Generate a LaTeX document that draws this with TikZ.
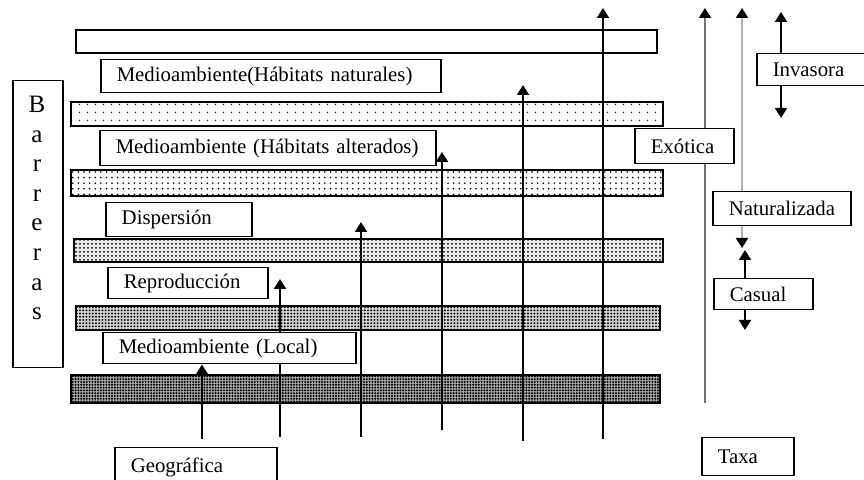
\documentclass[tikz,border=0pt]{standalone}
\usepackage{fontspec}
\setmainfont{Liberation Serif}
\usetikzlibrary{arrows.meta,patterns.meta,backgrounds}

\begin{document}
\begin{tikzpicture}[x=0.5pt,y=-0.5pt,>={Triangle[length=5pt,width=6pt]}]
    \tikzstyle{bar}=[draw,line width=0.7pt]
    \tikzstyle{bar blank}=[fill=white]
    \tikzstyle{bar sparse}=[pattern={Dots[distance=4pt,radius=0.4pt]}]
    \tikzstyle{bar medium}=[pattern={Dots[distance=2.8pt,radius=0.45pt]}]
    \tikzstyle{bar dense}=[preaction={fill=black!8},pattern={Dots[distance=2pt,radius=0.5pt]}]
    \tikzstyle{bar denser}=[preaction={fill=black!15},pattern={Dots[distance=1.6pt,radius=0.55pt]}]
    \tikzstyle{bar densest}=[preaction={fill=black!35},pattern={Dots[distance=1.4pt,radius=0.55pt]}]
    \tikzstyle{barrier}=[draw,fill=white,line width=0.75pt,anchor=north west,inner xsep=8pt,inner ysep=0pt,align=left,font=\fontsize{10.4}{12}\selectfont]
    \tikzstyle{status}=[barrier]
    \tikzstyle{taxon}=[->,line width=1pt]
    \tikzstyle{pathway}=[line width=1pt]

    \useasboundingbox (0,0) rectangle (864,480);
    \clip (0,0) rectangle (864,480);

    % Barreras box on the left
    \node[draw,line width=0.75pt,minimum width=25pt,minimum height=143.5pt,anchor=north west,inner sep=0pt] (barreras) at (12,80) {};
    \node[align=center,inner sep=0pt,font=\fontsize{12.5}{14.8}\selectfont] (barreras-text) at (37,208) {B\\a\\r\\r\\e\\r\\a\\s};

    % Draw the barrier labels
    \node[barrier,text width=154pt,minimum height=16.5pt] (nat) at (100,59) {Medioambiente(Hábitats naturales)};
    \node[barrier,text width=152pt,minimum height=17.5pt] (alt) at (99,130) {Medioambiente (Hábitats alterados)};
    \node[barrier,text width=57pt,minimum height=17pt] (disp) at (105,202) {Dispersión};
    \node[barrier,text width=64pt,minimum height=15.5pt] (rep) at (107,267) {Reproducción};
    \node[barrier,text width=110.5pt,minimum height=15.5pt] (loc) at (102,332) {Medioambiente (Local)};
    \node[barrier,text width=65pt,minimum height=20pt] (geo) at (114,447) {Geográfica};

    % Draw the status labels
    \node[status,text width=33.5pt,minimum height=17.5pt] (exo) at (634,128) {Exótica};
    \node[status,text width=53pt,minimum height=17pt] (natz) at (712,191) {Naturalizada};
    \node[status,text width=44pt,minimum height=16pt] (inv) at (756,53) {Invasora};
    \node[status,text width=33.5pt,minimum height=15.5pt] (cas) at (713,278) {Casual};
    \node[status,text width=30pt,minimum height=19pt] (taxa) at (701,437) {Taxa};

    \begin{scope}[on background layer]
    % Draw the barriers
    \foreach \xa/\ya/\xb/\yb/\look in {76/30/657/53/bar blank,
                                        71/102/663/126/bar sparse,
                                        71/170/663/196/bar medium,
                                        74/239/663/262/bar dense,
                                        76/306/660/330/bar denser,
                                        71/375/660/403/bar densest}
        \draw[bar,\look] (\xa,\ya) rectangle (\xb,\yb);

    % Taxa going through the barriers
    \coordinate (geo-up) at (202,439);
    \draw[taxon] (geo-up) -- (geo-up |- loc.south);
    \foreach \name/\x/\ya/\yb in {1/280/437/279, 2/361/437/222, 3/442/430/152, 4/523/441/85, 5/603/439/8}{
        \coordinate (t-\name-from) at (\x,\ya);
        \coordinate (t-\name-to) at (\x,\yb);
        \draw[taxon] (t-\name-from) -- (t-\name-to);
    }

    % Grey lines on the right
    \coordinate (exo-from) at (705,403);
    \coordinate (exo-to) at (705,8);
    \draw[pathway,draw=black!55,-{Triangle[length=5pt,width=6pt,color=black]}] (exo-from) -- (exo-to);
    \coordinate (natz-from) at (742,248);
    \coordinate (natz-to) at (742,8);
    \draw[pathway,draw=black!30,{Triangle[length=5pt,width=6pt,color=black]}-{Triangle[length=5pt,width=6pt,color=black]}] (natz-from) -- (natz-to);
    \end{scope}

    % Arrows of Invasora and Casual
    \coordinate (inv-up) at (781,12);
    \coordinate (inv-down) at (781,118);
    \draw[taxon] (inv-up |- inv.north) -- (inv-up);
    \draw[taxon] (inv-down |- inv.south) -- (inv-down);
    \coordinate (cas-up) at (745,250);
    \coordinate (cas-down) at (745,330);
    \draw[taxon] (cas-up |- cas.north) -- (cas-up);
    \draw[taxon] (cas-down |- cas.south) -- (cas-down);
\end{tikzpicture}
\end{document}
